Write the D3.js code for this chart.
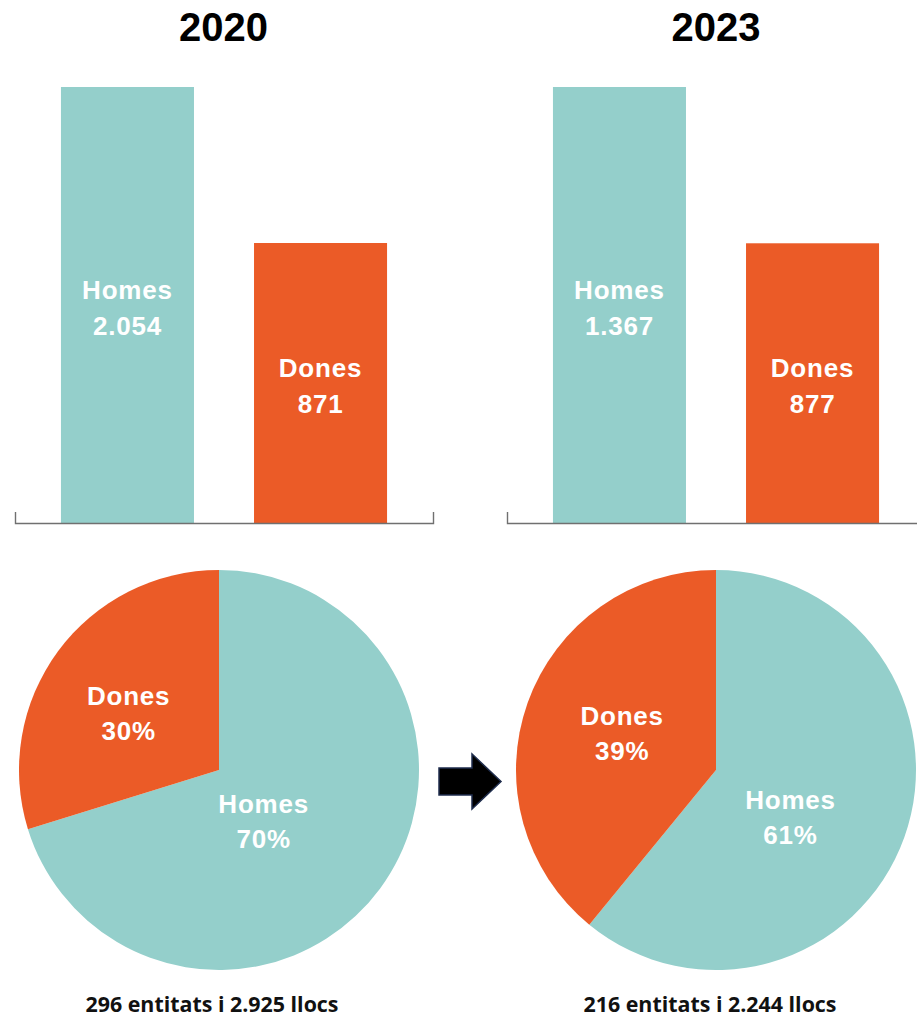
<!DOCTYPE html>
<html><head><meta charset="utf-8">
<script src="https://cdn.jsdelivr.net/npm/d3@7"></script>
<style>html,body{margin:0;padding:0;background:#fff;}svg{display:block;}</style>
</head><body>
<svg id="chart" width="917" height="1018"></svg>
<script>
// ---- data ----
const years = ["2020", "2023"];
const categories = ["Homes", "Dones"];
const values2020 = [2054, 871];
const values2023 = [1367, 877];
const footnotes = ["296 entitats i 2.925 llocs", "216 entitats i 2.244 llocs"];
// bar-scale lower bound per panel (the 2020 bars in the original are drawn at the 2023 proportions)
const barDomainMin = [-1252, 0];

const colors = {Homes: "#94CFCB", Dones: "#EB5B27"};
const loc = d3.formatLocale({decimal: ",", thousands: ".", grouping: [3], currency: ["", " €"]});
const fmt = loc.format(",d");

const svg = d3.select("#chart");
const panels = [
  {year: years[0], values: values2020, note: footnotes[0], x0: 15, x1: 433, cx: 219, tx: 223.5, nx: 212, lo: barDomainMin[0],
   labelPos: {Homes: {r: 68, da: 12.5}, Dones: {r: 107, da: -4}}},
  {year: years[1], values: values2023, note: footnotes[1], x0: 507, x1: 925, cx: 716, tx: 716, nx: 710, lo: barDomainMin[1],
   labelPos: {Homes: {r: 88, da: 12.5}, Dones: {r: 101, da: 2}}}
];

const barTop = 87, barBase = 523;
const pieR = 200, pieCy = 770;
const labelFont = "Liberation Sans, Arial, sans-serif";

panels.forEach(p => {
  const data = categories.map((c, i) => ({cat: c, value: p.values[i]}));
  const g = svg.append("g");

  // title
  g.append("text").attr("x", p.tx).attr("y", 40.5).attr("text-anchor", "middle")
    .attr("font-family", labelFont).attr("font-weight", "bold")
    .attr("font-size", 40).attr("fill", "#000").text(p.year);

  // bars
  const x = d3.scaleBand().domain(categories).range([p.x0, p.x1])
    .paddingInner(0.311).paddingOuter(0.238);
  const y = d3.scaleLinear().domain([p.lo, d3.max(p.values)]).range([barBase, barTop]);

  g.selectAll("rect.bar").data(data).join("rect").attr("class", "bar")
    .attr("x", d => x(d.cat)).attr("width", x.bandwidth())
    .attr("y", d => y(d.value)).attr("height", d => barBase - y(d.value))
    .attr("fill", d => colors[d.cat]);

  const lbl = g.selectAll("text.blbl").data(data).join("text").attr("class", "blbl")
    .attr("text-anchor", "middle")
    .attr("font-family", labelFont).attr("font-weight", "bold")
    .attr("font-size", 26).attr("letter-spacing", 0.8).attr("fill", "#fff");
  lbl.append("tspan").attr("x", d => x(d.cat) + x.bandwidth() / 2)
    .attr("y", d => (y(d.value) + barBase) / 2 - 6).text(d => d.cat);
  lbl.append("tspan").attr("x", d => x(d.cat) + x.bandwidth() / 2)
    .attr("y", d => (y(d.value) + barBase) / 2 + 30).text(d => fmt(d.value));

  // axis
  const ax = g.append("g").attr("transform", `translate(0,${barBase})`)
    .call(d3.axisTop(x).tickValues([]).tickSizeOuter(11));
  ax.select(".domain").attr("stroke", "#707070").attr("stroke-width", 1.4);

  // pie
  const total = d3.sum(p.values);
  const pie = d3.pie().sort(null).value(d => d.value);
  const arcs = pie(data);
  const arc = d3.arc().innerRadius(0).outerRadius(pieR);
  const pg = g.append("g").attr("transform", `translate(${p.cx},${pieCy})`);
  pg.selectAll("path").data(arcs).join("path").attr("d", arc)
    .attr("fill", d => colors[d.data.cat]);

  const pl = pg.selectAll("text.plbl").data(arcs).join("text").attr("class", "plbl")
    .attr("text-anchor", "middle")
    .attr("font-family", labelFont).attr("font-weight", "bold")
    .attr("font-size", 26).attr("letter-spacing", 0.8).attr("fill", "#fff")
    .attr("transform", d => {
      const lp = p.labelPos[d.data.cat];
      const a = (d.startAngle + d.endAngle) / 2 + lp.da * Math.PI / 180;
      return `translate(${lp.r * Math.sin(a)},${-lp.r * Math.cos(a)})`;
    });
  pl.append("tspan").attr("x", 0).attr("y", -8).text(d => d.data.cat);
  pl.append("tspan").attr("x", 0).attr("y", 27).text(d => Math.round(d.data.value / total * 100) + "%");

  // footnote
  g.append("text").attr("x", p.nx).attr("y", 1012).attr("text-anchor", "middle")
    .attr("font-family", "Open Sans, Noto Sans, sans-serif").attr("font-weight", "bold")
    .attr("font-size", 21.4).attr("fill", "#111").text(p.note);
});

// arrow between pies
svg.append("path")
  .attr("d", "M439,768 H472 V754 L501,781.5 L472,809 V795 H439 Z")
  .attr("fill", "#000").attr("stroke", "#1F2D4D").attr("stroke-width", 1.5);
</script>
</body></html>
